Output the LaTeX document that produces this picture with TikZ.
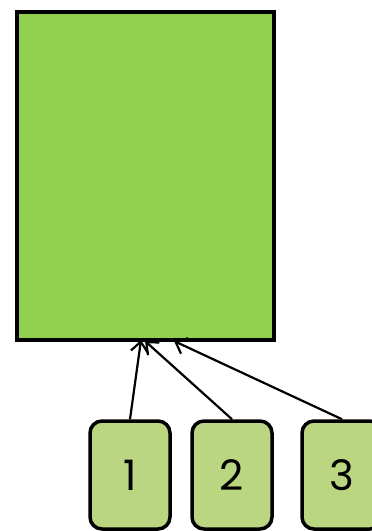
\documentclass[tikz,border=0pt]{standalone}
\usepackage{fontspec}
\setsansfont{Poppins}
\usetikzlibrary{arrows.meta, positioning}
\definecolor{bigGreen}{RGB}{146,208,80}
\definecolor{lightGreen}{RGB}{187,214,128}
\tikzset{
    numbox/.style={draw=black, line width=3.5pt, fill=lightGreen, rounded corners=12pt,
        minimum width=80pt, minimum height=108pt, inner sep=0pt,
        font=\sffamily\fontsize{42}{46}\selectfont},
    link/.style={line width=2.2pt, -{Straight Barb[length=10pt,width=17pt]}}
}

\begin{document}
\begin{tikzpicture}[x=1pt,y=-1pt]
    % page frame
    \clip (0,0) rectangle (372,531);
    \useasboundingbox (0,0) rectangle (372,531);

    % the big box
    \node[draw=black, line width=3.5pt, fill=bigGreen, minimum width=257pt,
        minimum height=328pt, inner sep=0pt, anchor=north west] (target) at (15,10) {};

    % the numbered boxes
    \node[numbox] (one) at (130,475) {1};
    \node[numbox, right=18.5pt of one] (two) {2};
    \node[numbox, right=26.5pt of two] (three) {3};

    % ends of the arrows under the big box
    \coordinate (t1) at (141,340);
    \coordinate (t2) at (145,341);
    \coordinate (t3) at (174,341);

    % draw the arrows
    \draw[link] (one.north) -- (t1);
    \draw[link] (two.north) -- (t2);
    \draw[link] (three.north) -- (t3);
\end{tikzpicture}
\end{document}
